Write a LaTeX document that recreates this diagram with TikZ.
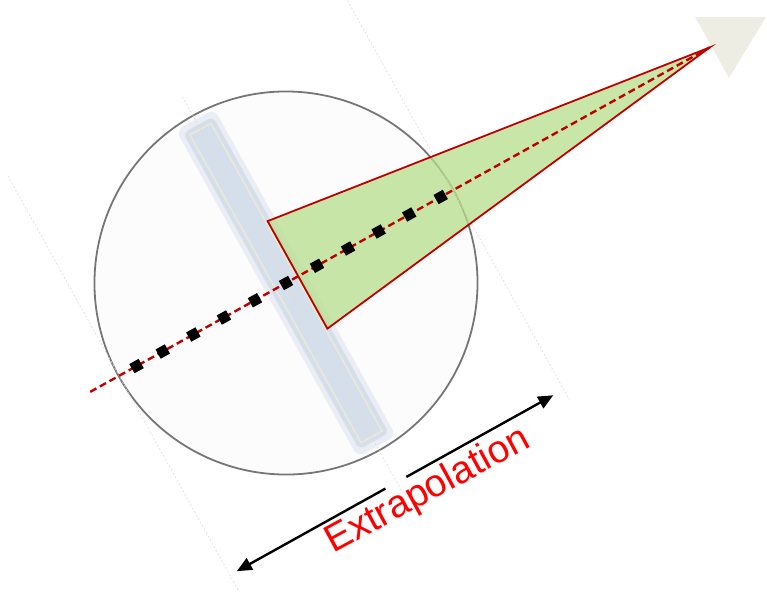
\documentclass[tikz,border=0pt]{standalone}
\usepackage{fontspec}
\usepackage{tikz}
\usetikzlibrary{calc, arrows.meta}
\newfontfamily\labelfont{Liberation Sans}
\definecolor{sightred}{HTML}{C00000}
\definecolor{conegreen}{RGB}{183,222,140}
\definecolor{barblue}{HTML}{D5DEEB}
\definecolor{barbeige}{HTML}{EBE8D6}
\definecolor{guidebeige}{HTML}{DEDDC8}
\definecolor{markgray}{HTML}{EEEDE4}
\definecolor{lensgray}{HTML}{767676}

\begin{document}
\begin{tikzpicture}[x=0.5mm, y=-0.5mm]

        % 1. Frame of the picture (pixel units, y downwards)
        \useasboundingbox (0,0) rectangle (767,592);
        \clip (0,0) rectangle (767,592);

        % 2. Centre, tilt of the line of sight and size of the lens
        \pgfmathsetmacro{\tilt}{29.07}  % angle of the line of sight
        \pgfmathsetmacro{\radius}{191.5} % radius of the lens circle
        \coordinate (C) at (286,283);

        \tikzset{guide/.style={guidebeige, line width=0.3mm, dash pattern=on 1mm off 1mm}}
        \tikzset{sight/.style={sightred, line width=1.2mm, dash pattern=on 3.5mm off 2mm}}
        \tikzset{marker/.style={fill=black, rectangle, minimum size=5.3mm, inner sep=0pt, rotate=\tilt}}
        \tikzset{span/.style={black, line width=1.2mm}}

        % Grey marker at the top right
        \fill[markgray] (695,17) -- (766,17) -- (729,78) -- cycle;

        \begin{scope}[shift={(C)}, rotate=\tilt]

        % 3. Points on the line of sight (u along the line, v across it)
        \coordinate (O) at (0,0);
        \coordinate (Start) at (-224,0);
        \coordinate (Apex) at (485,0);
        \coordinate (BaseL) at (14,-63);
        \coordinate (BaseR) at (14,60);

        % 4. Lens and bar
        \draw[lensgray, fill=black!1, line width=0.9mm] (O) circle (\radius);
        \fill[barblue, opacity=0.45, rounded corners=4mm] (-22,-187) rectangle (22,187);
        \fill[barblue, rounded corners=2.5mm] (-17,-181) rectangle (17,181);
        \draw[barbeige, line width=0.8mm] (-12,-176) rectangle (12,176);

        % 5. Faint guides across the line of sight
        \draw[guide] (-191,-229) -- (-191,250);
        \draw[guide] (0,-213) -- (0,240);
        \draw[guide] (191,-229) -- (191,240);

        % 6. Cone and line of sight
        \filldraw[fill=conegreen, fill opacity=0.75, draw=sightred, line width=0.9mm, line join=miter]
            (BaseL) -- (Apex) -- (BaseR) -- cycle;
        \draw[sight] (Start) -- (Apex);

        % Sample markers along the line
        \foreach \u [count=\i] in {-171,-141,-106,-71,-35.5,0,35.5,71,106,141,177}
            \node[marker] (m\i) at (\u,0) {};

        % 7. Double arrow with the label
        \coordinate (ArrL) at (-183,228);
        \coordinate (GapL) at (-13,228);
        \coordinate (GapR) at (11,228);
        \coordinate (ArrR) at (179,228);
        \draw[span, {Triangle[length=7.5mm, width=6.5mm]}-] (ArrL) -- (GapL);
        \draw[span, -{Triangle[length=7.5mm, width=6.5mm]}] (GapR) -- (ArrR);

        \node[text=red, font={\labelfont\fontsize{55}{60}\selectfont}, rotate=28.5, anchor=base, inner sep=0pt]
            (extrap) at (23,261) {Extrapolation};

        \end{scope}

    \end{tikzpicture}
\end{document}
